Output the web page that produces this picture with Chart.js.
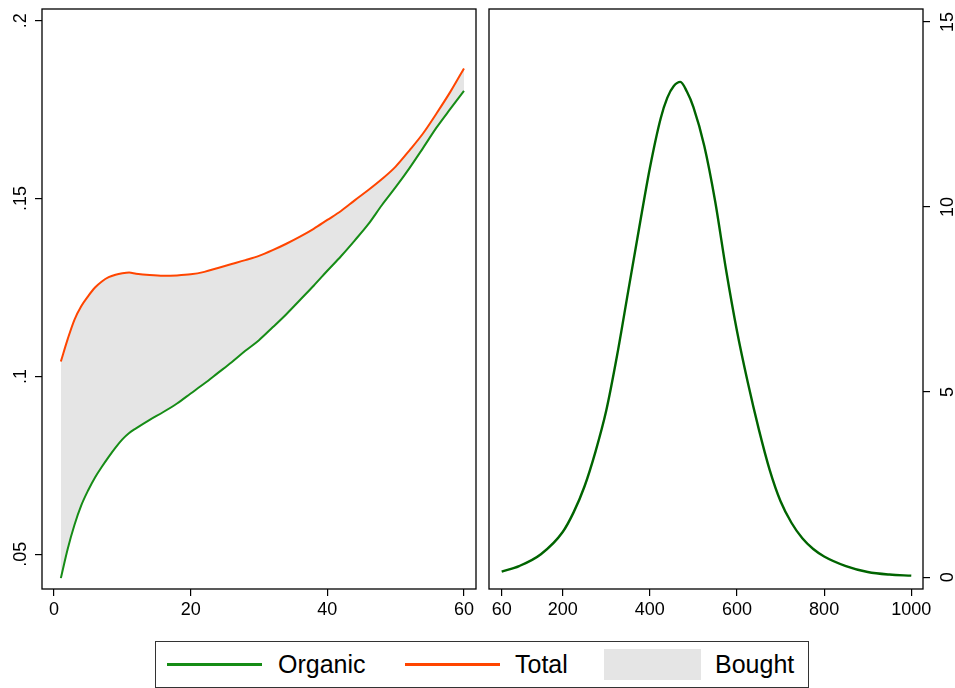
<!DOCTYPE html>
<html lang="en">
<head>
  <meta charset="UTF-8" />
  <title>Organic vs Total</title>
  <script src="https://cdn.jsdelivr.net/npm/chart.js@4/dist/chart.umd.min.js"></script>
  <style>
    *, *::before, *::after { box-sizing: border-box; margin: 0; padding: 0; }
    body {
      width: 955px;
      height: 688px;
      background: #fff;
      position: relative;
      overflow: hidden;
      font-family: 'Liberation Sans', Arial, sans-serif;
    }
    #left { position: absolute; left: 0; top: 0; }
    #right { position: absolute; left: 476px; top: 0; }
    .legend {
      position: absolute;
      left: 155px;
      top: 641px;
      width: 654px;
      height: 47px;
      border: 1.5px solid #333;
    }
    .legend__line { position: absolute; top: 21px; width: 95px; height: 3px; }
    .legend__box { position: absolute; top: 7px; width: 97px; height: 31px; background: #e5e5e5; }
    .legend__text { position: absolute; top: 0; line-height: 44px; font-size: 25px; color: #000; }
  </style>
</head>
<body>
  <canvas id="left" width="482" height="625"></canvas>
  <canvas id="right" width="479" height="625"></canvas>

  <div class="legend">
    <div class="legend__line" style="left: 11px; background: #168c16;"></div>
    <div class="legend__text" style="left: 122px;">Organic</div>
    <div class="legend__line" style="left: 249px; background: #ff4500;"></div>
    <div class="legend__text" style="left: 359px;">Total</div>
    <div class="legend__box" style="left: 448px;"></div>
    <div class="legend__text" style="left: 559px;">Bought</div>
  </div>

  <script>
    // left panel
    const ageX = [1, 2, 3, 4, 5, 6, 7, 8, 9, 10, 11, 12, 14, 16, 18, 20, 22, 24, 26, 28,
      30, 32, 34, 36, 38, 40, 42, 44, 46, 48, 50, 52, 54, 56, 58, 60];
    const organic = [0.0433, 0.0515, 0.0583, 0.0638, 0.0680, 0.0716, 0.0746, 0.0774, 0.0800, 0.0823,
      0.0841, 0.0854, 0.0878, 0.0900, 0.0924, 0.0952, 0.0980, 0.1010, 0.1040, 0.1072,
      0.1102, 0.1138, 0.1175, 0.1215, 0.1255, 0.1297, 0.1338, 0.1382, 0.1428, 0.1482,
      0.1532, 0.1585, 0.1642, 0.1700, 0.1752, 0.1803];
    const total = [0.1042, 0.1105, 0.1160, 0.1198, 0.1226, 0.1250, 0.1267, 0.1279, 0.1286, 0.1290,
      0.1292, 0.1289, 0.1285, 0.1283, 0.1284, 0.1287, 0.1294, 0.1305, 0.1316, 0.1327,
      0.1339, 0.1355, 0.1373, 0.1393, 0.1415, 0.1440, 0.1465, 0.1495, 0.1524, 0.1555,
      0.1590, 0.1635, 0.1683, 0.1740, 0.1800, 0.1866];

    // right panel
    const sizeX = [60, 100, 150, 200, 225, 250, 275, 300, 325, 350, 375, 400, 425, 440, 455, 470, 485,
      500, 525, 550, 575, 600, 625, 650, 675, 700, 725, 750, 775, 800, 850, 900, 950, 1000];
    const density = [0.15, 0.30, 0.62, 1.22, 1.75, 2.45, 3.38, 4.50, 6.00, 7.70, 9.40, 11.05, 12.40, 12.95, 13.27, 13.38, 13.12,
      12.70, 11.65, 10.15, 8.30, 6.65, 5.25, 4.00, 2.90, 2.05, 1.47, 1.05, 0.76, 0.56, 0.30, 0.14, 0.07, 0.04];

    const leftXTicks = [0, 20, 40, 60];
    const leftYTicks = [0.05, 0.1, 0.15, 0.2];
    const rightXTicks = [60, 200, 400, 600, 800, 1000];
    const rightYTicks = [0, 5, 10, 15];

    const GREEN = '#168c16';
    const DARK_GREEN = '#006400';
    const ORANGE = '#ff4500';
    const FILL = '#e5e5e5';

    Chart.defaults.font.family = "'Liberation Sans', Arial, sans-serif";
    Chart.defaults.color = '#000';

    const points = (xs, ys) => xs.map((x, i) => ({ x, y: ys[i] }));
    const fixedTicks = (values) => (scale) => { scale.ticks = values.map((v) => ({ value: v })); };
    const stataNum = (v) => String(Math.round(v * 1000) / 1000).replace(/^0\./, '.');

    const framePlugin = {
      id: 'frame',
      afterDatasetsDraw(chart) {
        const { ctx, chartArea: a } = chart;
        ctx.save();
        ctx.strokeStyle = '#000';
        ctx.lineWidth = 1.3;
        ctx.strokeRect(a.left, a.top, a.right - a.left, a.bottom - a.top);
        ctx.restore();
      },
    };

    function tickGrid() {
      return { drawOnChartArea: false, drawTicks: true, tickLength: 7, color: '#000', lineWidth: 1.2 };
    }

    // chart area is placed by hand, so drop the label overhang padding
    function noPad(s) {
      s.paddingTop = 0;
      s.paddingBottom = 0;
      s.paddingLeft = 0;
      s.paddingRight = 0;
    }

    function xAxis(min, max, ticks) {
      return {
        type: 'linear',
        position: 'bottom',
        min, max,
        afterBuildTicks: fixedTicks(ticks),
        afterFit: (s) => { s.height = 36; noPad(s); },
        border: { display: false },
        grid: tickGrid(),
        ticks: { font: { size: 18 }, padding: 3, maxRotation: 0, autoSkip: false, callback: stataNum },
      };
    }

    function yAxis(position, min, max, ticks, width, pad) {
      return {
        type: 'linear',
        position,
        min, max,
        afterBuildTicks: fixedTicks(ticks),
        afterFit: (s) => { s.width = width; noPad(s); },
        border: { display: false },
        grid: tickGrid(),
        ticks: {
          font: { size: 18 },
          minRotation: 90,
          maxRotation: 90,
          crossAlign: 'center',
          padding: pad,
          autoSkip: false,
          callback: stataNum,
        },
      };
    }

    new Chart(document.getElementById('left'), {
      type: 'line',
      data: {
        datasets: [
          {
            label: 'Organic',
            data: points(ageX, organic),
            borderColor: GREEN,
            borderWidth: 2,
            pointRadius: 0,
            cubicInterpolationMode: 'monotone',
            fill: false,
          },
          {
            label: 'Total',
            data: points(ageX, total),
            borderColor: ORANGE,
            backgroundColor: FILL,
            borderWidth: 2,
            pointRadius: 0,
            cubicInterpolationMode: 'monotone',
            fill: '-1',
          },
        ],
      },
      options: {
        responsive: false,
        animation: false,
        devicePixelRatio: 1,
        layout: { padding: { top: 9, right: 6, left: 0, bottom: 0 } },
        plugins: { legend: { display: false }, tooltip: { enabled: false } },
        scales: {
          x: xAxis(-1.76, 61.76, leftXTicks),
          y: yAxis('left', 0.04024, 0.2033, leftYTicks, 42, 1),
        },
      },
      plugins: [framePlugin],
    });

    new Chart(document.getElementById('right'), {
      type: 'line',
      data: {
        datasets: [{
          label: 'Organic',
          data: points(sizeX, density),
          borderColor: DARK_GREEN,
          borderWidth: 2.4,
          pointRadius: 0,
          cubicInterpolationMode: 'monotone',
          fill: false,
        }],
      },
      options: {
        responsive: false,
        animation: false,
        devicePixelRatio: 1,
        layout: { padding: { top: 9, right: 0, left: 13, bottom: 0 } },
        plugins: { legend: { display: false }, tooltip: { enabled: false } },
        scales: {
          x: xAxis(30.9, 1026.9, rightXTicks),
          y: yAxis('right', -0.32, 15.35, rightYTicks, 32, 8),
        },
      },
      plugins: [framePlugin],
    });
  </script>
</body>
</html>
